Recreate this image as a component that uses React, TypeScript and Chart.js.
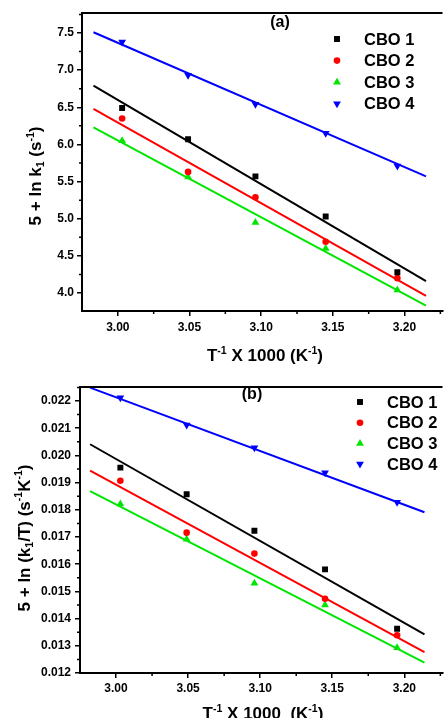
import React, { useEffect, useRef } from "react";
import { Chart, registerables } from "chart.js";

Chart.register(...registerables);

// ---------- data ----------
const seriesNames = ["CBO 1", "CBO 2", "CBO 3", "CBO 4"];
const seriesColors = ["#000000", "#ff0000", "#00e600", "#0000ff"];

const invT = [3.003, 3.049, 3.096, 3.145, 3.195];

// panel (a): 5 + ln k1
const cbo1A = [6.49, 6.07, 5.57, 5.03, 4.28];
const cbo2A = [6.35, 5.63, 5.29, 4.69, 4.2];
const cbo3A = [6.05, 5.56, 4.95, 4.6, 4.04];
const cbo4A = [7.38, 6.93, 6.54, 6.15, 5.71];
const fitXA = [2.983, 3.215];
const fit1A = [6.79, 4.16];
const fit2A = [6.48, 3.96];
const fit3A = [6.23, 3.83];
const fit4A = [7.51, 5.57];

// panel (b): 5 + ln (k1/T)
const cbo1B = [0.01955, 0.01857, 0.01723, 0.01581, 0.01363];
const cbo2B = [0.01907, 0.01716, 0.01639, 0.01473, 0.01339];
const cbo3B = [0.01821, 0.01692, 0.0153, 0.0145, 0.01293];
const cbo4B = [0.02212, 0.02112, 0.02028, 0.01936, 0.01828];
const fitXB = [2.982, 3.214];
const fit1B = [0.02041, 0.01342];
const fit2B = [0.01944, 0.01277];
const fit3B = [0.01869, 0.01238];
const fit4B = [0.02249, 0.01791];

const xTicks = [3.0, 3.05, 3.1, 3.15, 3.2];
const xMinor = [3.025, 3.075, 3.125, 3.175, 3.225];
const yTicksA = [4.0, 4.5, 5.0, 5.5, 6.0, 6.5, 7.0, 7.5];
const yMinorA = [4.25, 4.75, 5.25, 5.75, 6.25, 6.75, 7.25, 7.75];
const yTicksB = [0.012, 0.013, 0.014, 0.015, 0.016, 0.017, 0.018, 0.019, 0.02, 0.021, 0.022];
const yMinorB = [0.0125, 0.0135, 0.0145, 0.0155, 0.0165, 0.0175, 0.0185, 0.0195, 0.0205, 0.0215, 0.0225];

// ---------- styling ----------
const FONT = '"Liberation Sans", Arial, Helvetica, sans-serif';
const markerStyles = ["rect", "circle", "triangle", "triangle"];
const markerRot = [0, 0, 0, 180];
const markerRadius = [4.2, 3.3, 4.5, 4.5];

type Seg = [string, string];

function drawRich(ctx: CanvasRenderingContext2D, segs: Seg[], x: number, y: number, size: number, rotate: boolean) {
  ctx.save();
  ctx.translate(x, y);
  if (rotate) ctx.rotate(-Math.PI / 2);
  const small = size * 0.62;
  let total = 0;
  for (const [t, k] of segs) {
    ctx.font = `bold ${k ? small : size}px ${FONT}`;
    total += ctx.measureText(t).width;
  }
  let cx = -total / 2;
  ctx.textAlign = "left";
  ctx.textBaseline = "alphabetic";
  ctx.fillStyle = "#000";
  for (const [t, k] of segs) {
    ctx.font = `bold ${k ? small : size}px ${FONT}`;
    const off = k === "sup" ? -size * 0.42 : k === "sub" ? size * 0.2 : 0;
    ctx.fillText(t, cx, off);
    cx += ctx.measureText(t).width;
  }
  ctx.restore();
}

function drawMarker(ctx: CanvasRenderingContext2D, i: number, x: number, y: number) {
  const r = markerRadius[i];
  ctx.fillStyle = seriesColors[i];
  ctx.beginPath();
  if (i === 0) {
    const s = r * Math.SQRT1_2;
    ctx.rect(x - s, y - s, 2 * s, 2 * s);
  } else if (i === 1) {
    ctx.arc(x, y, r, 0, Math.PI * 2);
  } else {
    const dir = i === 2 ? -1 : 1;
    for (let k = 0; k < 3; k++) {
      const a = (k * 2 * Math.PI) / 3;
      const px = x + Math.sin(a) * r;
      const py = y + dir * Math.cos(a) * r;
      if (k === 0) ctx.moveTo(px, py);
      else ctx.lineTo(px, py);
    }
    ctx.closePath();
  }
  ctx.fill();
}

interface PanelCfg {
  height: number;
  padTop: number;
  yWidth: number;
  xHeight: number;
  yMin: number;
  yMax: number;
  yTicks: number[];
  yMinor: number[];
  yDigits: number;
  yPad: number;
  xPad: number;
  points: number[][];
  fitX: number[];
  fits: number[][];
  label: string;
  labelX: number;
  labelY: number;
  legX: number;
  legTextX: number;
  legY: number;
  legDy: number;
  legSize: number;
  xTitle: Seg[];
  xTitleX: number;
  xTitleY: number;
  yTitle: Seg[];
  yTitleX: number;
  yTitleY: number;
}

const panelA: PanelCfg = {
  height: 365,
  padTop: 13,
  yWidth: 82,
  xHeight: 54,
  yMin: 3.758,
  yMax: 7.769,
  yTicks: yTicksA,
  yMinor: yMinorA,
  yDigits: 1,
  yPad: 3,
  xPad: 4,
  points: [cbo1A, cbo2A, cbo3A, cbo4A],
  fitX: fitXA,
  fits: [fit1A, fit2A, fit3A, fit4A],
  label: "(a)",
  labelX: 280,
  labelY: 23,
  legX: 337,
  legTextX: 364,
  legY: 39,
  legDy: 21.6,
  legSize: 16.5,
  xTitle: [["T", ""], ["-1", "sup"], [" X 1000 (K", ""], ["-1", "sup"], [")", ""]],
  xTitleX: 265,
  xTitleY: 361,
  yTitle: [["5 + ln k", ""], ["1", "sub"], [" (s", ""], ["-1", "sup"], [")", ""]],
  yTitleX: 41,
  yTitleY: 176,
};

const panelB: PanelCfg = {
  height: 353,
  padTop: 22,
  yWidth: 80,
  xHeight: 45,
  yMin: 0.012,
  yMax: 0.022515,
  yTicks: yTicksB,
  yMinor: yMinorB,
  yDigits: 3,
  yPad: 4,
  xPad: 3,
  points: [cbo1B, cbo2B, cbo3B, cbo4B],
  fitX: fitXB,
  fits: [fit1B, fit2B, fit3B, fit4B],
  label: "(b)",
  labelX: 252,
  labelY: 30,
  legX: 360,
  legTextX: 387,
  legY: 37,
  legDy: 20.7,
  legSize: 16.5,
  xTitle: [["T", ""], ["-1", "sup"], [" X 1000  (K", ""], ["-1", "sup"], [")", ""]],
  xTitleX: 263,
  xTitleY: 354,
  yTitle: [["5 + ln (k", ""], ["1", "sub"], ["/T) (s", ""], ["-1", "sup"], ["K", ""], ["-1", "sup"], [")", ""]],
  yTitleX: 29.5,
  yTitleY: 173,
};

function makeDecor(p: PanelCfg) {
  return {
    id: "decor",
    afterDraw(chart: any) {
      const ctx: CanvasRenderingContext2D = chart.ctx;
      const { left, right, top, bottom } = chart.chartArea;
      const xs = chart.scales.x;
      const ys = chart.scales.y;
      ctx.save();
      ctx.strokeStyle = "#000";
      ctx.lineWidth = 2;
      ctx.beginPath();
      ctx.moveTo(left - 1, top);
      ctx.lineTo(right, top);
      ctx.stroke();
      ctx.lineWidth = 1.5;
      ctx.beginPath();
      for (const v of xMinor) {
        const px = xs.getPixelForValue(v);
        if (px < left + 1 || px > right) continue;
        ctx.moveTo(px, bottom);
        ctx.lineTo(px, bottom + 3);
      }
      for (const v of p.yMinor) {
        const py = ys.getPixelForValue(v);
        if (py < top || py > bottom) continue;
        ctx.moveTo(left, py);
        ctx.lineTo(left - 3, py);
      }
      ctx.stroke();

      ctx.fillStyle = "#000";
      ctx.font = `bold 16px ${FONT}`;
      ctx.textAlign = "center";
      ctx.textBaseline = "middle";
      ctx.fillText(p.label, p.labelX, p.labelY);

      for (let i = 0; i < seriesNames.length; i++) {
        const y = p.legY + i * p.legDy;
        drawMarker(ctx, i, p.legX, y);
        ctx.fillStyle = "#000";
        ctx.font = `bold ${p.legSize}px ${FONT}`;
        ctx.textAlign = "left";
        ctx.textBaseline = "middle";
        ctx.fillText(seriesNames[i], p.legTextX, y + 1);
      }

      drawRich(ctx, p.xTitle, p.xTitleX, p.xTitleY, 17, false);
      drawRich(ctx, p.yTitle, p.yTitleX, p.yTitleY, 17, true);
      ctx.restore();
    },
  };
}

function buildConfig(p: PanelCfg): any {
  const datasets: any[] = [];
  seriesNames.forEach((name, i) => {
    datasets.push({
      type: "line",
      label: name,
      data: p.points[i].map((y, j) => ({ x: invT[j], y })),
      showLine: false,
      pointStyle: markerStyles[i],
      pointRotation: markerRot[i],
      pointRadius: markerRadius[i],
      pointBackgroundColor: seriesColors[i],
      pointBorderColor: seriesColors[i],
      pointBorderWidth: 0,
      order: 0,
    });
    datasets.push({
      type: "line",
      label: name + " fit",
      data: p.fitX.map((x, j) => ({ x, y: p.fits[i][j] })),
      borderColor: seriesColors[i],
      borderWidth: 2,
      pointRadius: 0,
      fill: false,
      order: 1,
    });
  });
  const tickFont = { family: FONT, size: 12, weight: "bold" };
  return {
    type: "line",
    data: { datasets },
    options: {
      responsive: false,
      animation: false,
      layout: { padding: { top: p.padTop, left: 0, right: 0, bottom: 0 } },
      plugins: { legend: { display: false }, tooltip: { enabled: false } },
      scales: {
        x: {
          type: "linear",
          min: 2.975,
          max: 3.2265,
          afterBuildTicks: (s: any) => {
            s.ticks = xTicks.map((v) => ({ value: v }));
          },
          afterFit: (s: any) => {
            s.height = p.xHeight;
          },
          ticks: {
            callback: (v: any) => Number(v).toFixed(2),
            font: tickFont,
            color: "#000",
            padding: p.xPad,
            maxRotation: 0,
            autoSkip: false,
          },
          grid: { drawOnChartArea: false, drawTicks: true, tickLength: 5, color: "#000", lineWidth: 1.5 },
          border: { display: true, color: "#000", width: 2 },
        },
        y: {
          type: "linear",
          min: p.yMin,
          max: p.yMax,
          afterBuildTicks: (s: any) => {
            s.ticks = p.yTicks.map((v) => ({ value: v }));
          },
          afterFit: (s: any) => {
            s.width = p.yWidth;
          },
          ticks: {
            callback: (v: any) => Number(v).toFixed(p.yDigits),
            font: tickFont,
            color: "#000",
            padding: p.yPad,
            autoSkip: false,
          },
          grid: { drawOnChartArea: false, drawTicks: true, tickLength: 5, color: "#000", lineWidth: 1.5 },
          border: { display: true, color: "#000", width: 2 },
        },
      },
    },
    plugins: [makeDecor(p)],
  };
}

function Panel({ cfg, top }: { cfg: PanelCfg; top: number }) {
  const ref = useRef<HTMLCanvasElement>(null);
  useEffect(() => {
    if (!ref.current) return;
    const chart = new Chart(ref.current, buildConfig(cfg));
    return () => chart.destroy();
  }, [cfg]);
  return (
    <canvas
      ref={ref}
      width={447}
      height={cfg.height}
      style={{ position: "absolute", left: 0, top, width: 447, height: cfg.height, display: "block" }}
    />
  );
}

export default function App() {
  return (
    <div style={{ position: "absolute", left: 0, top: 0, width: 447, height: 718, background: "#fff", overflow: "hidden" }}>
      <Panel cfg={panelA} top={0} />
      <Panel cfg={panelB} top={365} />
    </div>
  );
}
